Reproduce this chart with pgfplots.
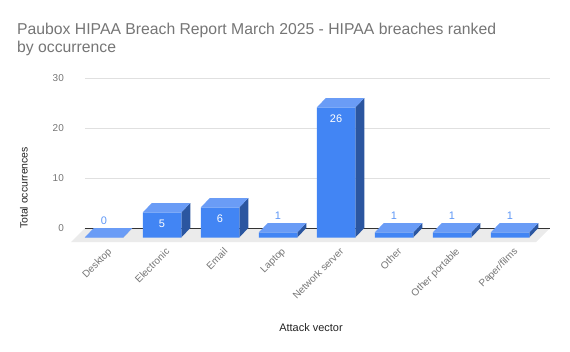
\documentclass[border=0pt]{standalone}
\usepackage{fontspec}
\setmainfont{Liberation Sans}
\usepackage{pgfplots}
\usepackage{pgfplotstable}
\pgfplotsset{compat=1.18}
\definecolor{barfront}{HTML}{4285F4}
\definecolor{bartop}{HTML}{6A9CF6}
\definecolor{barside}{HTML}{2B56A0}
\definecolor{lablue}{HTML}{5E97F6}
\definecolor{gridgray}{HTML}{E0E0E0}
\definecolor{floorgray}{HTML}{EBEBEB}
\definecolor{zeroline}{HTML}{333333}
\definecolor{tickgray}{HTML}{757575}
\definecolor{titlegray}{HTML}{757575}
\definecolor{axtitle}{HTML}{222222}
\newcommand\vlabfont{\fontsize{11}{13}\selectfont}
\pgfplotstableread{
x v
0 0
1 5
2 6
3 1
4 26
5 1
6 1
7 1
}\data
\begin{document}
\begin{tikzpicture}
\path[use as bounding box] (0,0) rectangle (570bp,352bp);
\node[anchor=base west, inner sep=0, text=titlegray, font=\fontsize{15.8}{18}\selectfont] at (17bp,317.7bp) {Paubox HIPAA Breach Report March 2025 - HIPAA breaches ranked};
\node[anchor=base west, inner sep=0, text=titlegray, font=\fontsize{15.8}{18}\selectfont] at (17bp,299bp) {by occurrence};
\begin{axis}[
  at={(85bp,124bp)}, anchor=south west,
  scale only axis, width=465bp, height=150bp,
  xmin=-0.483, xmax=7.534, ymin=0, ymax=30,
  ytick={0,10,20,30},
  xtick={0,...,7},
  xticklabels={Desktop, Electronic, Email, Laptop, Network server, Other, Other portable, Paper/films},
  ymajorgrids, grid style={gridgray, line width=0.8bp},
  axis line style={draw=none},
  major tick length=0pt,
  clip=false,
  /pgf/number format/assume math mode=true,
  yticklabel style={anchor=east, inner sep=0pt, xshift=-21bp, font=\fontsize{10}{12}\selectfont, text=tickgray},
  xticklabel style={xshift=-6bp, yshift=-19bp, rotate=45, anchor=north east, inner sep=0pt, font=\fontsize{10}{12}\selectfont, text=tickgray},
  ylabel={Total occurrences},
  ylabel style={at={(axis description cs:-0.1312,0.267)}, anchor=center, font=\fontsize{10.5}{12}\selectfont, text=axtitle},
  xlabel={Attack vector},
  xlabel style={at={(axis description cs:0.486,-0.667)}, anchor=center, font=\fontsize{11}{13}\selectfont, text=axtitle},
]
\fill[floorgray] (axis cs:-0.483,0) -- (axis cs:7.534,0) -- ([xshift=-14bp,yshift=-14bp]axis cs:7.534,0) -- ([xshift=-14bp,yshift=-14bp]axis cs:-0.483,0) -- cycle;
\draw[zeroline, line width=0.8bp] (axis cs:-0.483,0) -- (axis cs:7.534,0);
\pgfplotsinvokeforeach{0,...,7}{%
  \pgfplotstablegetelem{#1}{v}\of\data
  \edef\temp{%
    \noexpand\fill[barside] ([xshift=10.25bp,yshift=-9.5bp]axis cs:#1,0) -- ([xshift=19.25bp]axis cs:#1,0) -- ([xshift=19.25bp]axis cs:#1,\pgfplotsretval) -- ([xshift=10.25bp,yshift=-9.5bp]axis cs:#1,\pgfplotsretval) -- cycle;
    \noexpand\fill[bartop] ([xshift=-28.25bp,yshift=-9.5bp]axis cs:#1,\pgfplotsretval) -- ([xshift=10.25bp,yshift=-9.5bp]axis cs:#1,\pgfplotsretval) -- ([xshift=19.25bp]axis cs:#1,\pgfplotsretval) -- ([xshift=-19.25bp]axis cs:#1,\pgfplotsretval) -- cycle;
  }%
  \temp
}
\addplot[ybar, bar width=38.5bp, fill=barfront, draw=none, xshift=-9bp, yshift=-9.5bp] table[x=x,y=v]{\data};
\pgfplotsinvokeforeach{0,...,7}{%
  \pgfplotstablegetelem{#1}{v}\of\data
  \ifdim\pgfplotsretval pt>3pt
    \edef\temp{\noexpand\node[text=white, font=\noexpand\vlabfont] at ([xshift=-9bp,yshift=-20.5bp]axis cs:#1,\pgfplotsretval) {\pgfplotsretval};}%
  \else
    \edef\temp{\noexpand\node[text=lablue, font=\noexpand\vlabfont] at ([xshift=-9bp,yshift=7.5bp]axis cs:#1,\pgfplotsretval) {\pgfplotsretval};}%
  \fi
  \temp
}
\end{axis}
\end{tikzpicture}
\end{document}
